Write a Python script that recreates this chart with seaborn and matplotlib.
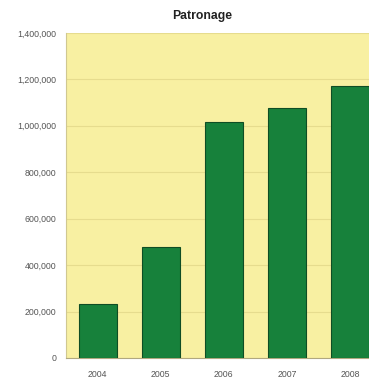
import matplotlib
matplotlib.use("Agg")
import matplotlib.pyplot as plt
import seaborn as sns
import pandas as pd
from matplotlib.ticker import FuncFormatter

years = ["2004", "2005", "2006", "2007", "2008"]
patronage = [234000, 479000, 1018000, 1076000, 1172000]
yticks = [0, 200000, 400000, 600000, 800000, 1000000, 1200000, 1400000]

df = pd.DataFrame({"year": years, "patronage": patronage})

sns.set_theme(style="white")
plt.rcParams["font.family"] = ["Liberation Sans", "DejaVu Sans"]

fig = plt.figure(figsize=(3.69, 3.78), dpi=100)
ax = fig.add_axes([0.179, 0.053, 0.855, 0.86])
ax.set_facecolor("#F8F0A2")

sns.barplot(data=df, x="year", y="patronage", color="#17813B", width=0.6,
            edgecolor="#0F4D24", linewidth=0.8, saturation=1, ax=ax, zorder=3)

ax.set_ylim(0, 1400000)
ax.set_xlim(-0.5, 4.5)
ax.set_yticks(yticks)
ax.yaxis.set_major_formatter(FuncFormatter(lambda v, p: f"{int(v):,}"))
ax.grid(axis="y", color="#E6DC8E", linewidth=0.8, zorder=0)
ax.set_axisbelow(True)
ax.tick_params(axis="both", labelsize=6.3, colors="#555555", length=0)
ax.tick_params(axis="y", pad=7)
ax.tick_params(axis="x", pad=9)
ax.set_xlabel("")
ax.set_ylabel("")
for s in ["top", "right"]:
    ax.spines[s].set_visible(False)
ax.spines["left"].set_color("#D0C890")
ax.spines["bottom"].set_color("#B0A880")
ax.spines["left"].set_linewidth(0.8)
ax.spines["bottom"].set_linewidth(0.8)

fig.text(0.547, 0.958, "Patronage", ha="center", va="center",
         fontsize=8.8, fontweight="bold", color="#222222")

fig.savefig("out.png", dpi=100)
